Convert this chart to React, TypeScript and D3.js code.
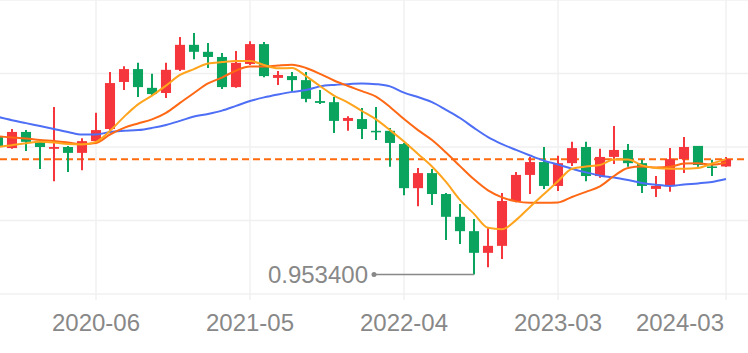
import React from 'react';
import * as d3 from 'd3';

// monthly candles, 2019-11 .. 2024-03
const months = [
  '2019-11', '2019-12', '2020-01', '2020-02', '2020-03', '2020-04', '2020-05', '2020-06',
  '2020-07', '2020-08', '2020-09', '2020-10', '2020-11', '2020-12', '2021-01', '2021-02',
  '2021-03', '2021-04', '2021-05', '2021-06', '2021-07', '2021-08', '2021-09', '2021-10',
  '2021-11', '2021-12', '2022-01', '2022-02', '2022-03', '2022-04', '2022-05', '2022-06',
  '2022-07', '2022-08', '2022-09', '2022-10', '2022-11', '2022-12', '2023-01', '2023-02',
  '2023-03', '2023-04', '2023-05', '2023-06', '2023-07', '2023-08', '2023-09', '2023-10',
  '2023-11', '2023-12', '2024-01', '2024-02', '2024-03',
];

const open = [
  1.327, 1.297, 1.341, 1.314, 1.295, 1.300, 1.284, 1.316, 1.349, 1.477, 1.512, 1.461, 1.447, 1.510,
  1.578, 1.559, 1.545, 1.463, 1.526, 1.580, 1.488, 1.493, 1.482, 1.425, 1.422, 1.371, 1.376, 1.344,
  1.344, 1.308, 1.188, 1.229, 1.172, 1.110, 1.071, 1.012, 1.031, 1.153, 1.224, 1.259, 1.194, 1.256,
  1.300, 1.221, 1.273, 1.292, 1.256, 1.186, 1.194, 1.267, 1.303, 1.247, 1.247,
];
const close = [
  1.300, 1.341, 1.314, 1.300, 1.300, 1.284, 1.316, 1.346, 1.474, 1.512, 1.463, 1.444, 1.510, 1.578,
  1.559, 1.545, 1.463, 1.529, 1.580, 1.493, 1.496, 1.482, 1.431, 1.420, 1.371, 1.379, 1.349, 1.341,
  1.311, 1.188, 1.229, 1.172, 1.110, 1.071, 1.012, 1.031, 1.153, 1.224, 1.259, 1.194, 1.256, 1.297,
  1.221, 1.273, 1.292, 1.256, 1.194, 1.194, 1.267, 1.300, 1.251, 1.243, 1.267,
];
const high = [
  1.333, 1.349, 1.346, 1.316, 1.409, 1.303, 1.324, 1.393, 1.504, 1.520, 1.529, 1.499, 1.529, 1.599,
  1.610, 1.583, 1.556, 1.561, 1.588, 1.586, 1.507, 1.504, 1.504, 1.455, 1.436, 1.384, 1.406, 1.409,
  1.352, 1.311, 1.243, 1.240, 1.175, 1.145, 1.104, 1.080, 1.175, 1.232, 1.273, 1.300, 1.276, 1.314,
  1.314, 1.295, 1.357, 1.308, 1.265, 1.221, 1.297, 1.327, 1.303, 1.265, 1.273,
];
const low = [
  1.295, 1.295, 1.289, 1.240, 1.207, 1.232, 1.237, 1.314, 1.346, 1.455, 1.436, 1.441, 1.433, 1.507,
  1.539, 1.515, 1.458, 1.461, 1.523, 1.490, 1.469, 1.450, 1.422, 1.417, 1.338, 1.344, 1.322, 1.319,
  1.246, 1.169, 1.139, 1.142, 1.047, 1.036, 0.9534, 0.973, 0.995, 1.150, 1.172, 1.186, 1.180, 1.248,
  1.207, 1.216, 1.254, 1.246, 1.175, 1.164, 1.178, 1.229, 1.246, 1.221, 1.246,
];

// moving averages as drawn
const ma5 = [
  1.300, 1.305, 1.310, 1.314, 1.312, 1.308, 1.307, 1.314, 1.344, 1.382, 1.416, 1.440, 1.467, 1.496,
  1.512, 1.527, 1.531, 1.534, 1.534, 1.523, 1.514, 1.515, 1.493, 1.466, 1.440, 1.421, 1.398, 1.375,
  1.346, 1.315, 1.281, 1.247, 1.205, 1.156, 1.118, 1.080, 1.076, 1.101, 1.137, 1.172, 1.207, 1.241,
  1.247, 1.251, 1.266, 1.266, 1.250, 1.243, 1.241, 1.241, 1.243, 1.255, 1.267,
];
const ma10 = [
  1.329, 1.326, 1.323, 1.319, 1.316, 1.312, 1.308, 1.311, 1.334, 1.352, 1.364, 1.375, 1.393, 1.420,
  1.447, 1.473, 1.489, 1.508, 1.519, 1.519, 1.522, 1.524, 1.515, 1.499, 1.481, 1.466, 1.452, 1.437,
  1.409, 1.376, 1.346, 1.319, 1.285, 1.248, 1.212, 1.182, 1.163, 1.152, 1.148, 1.148, 1.149, 1.164,
  1.178, 1.193, 1.221, 1.243, 1.247, 1.244, 1.246, 1.255, 1.256, 1.252, 1.258,
];
const ma20 = [
  1.382, 1.373, 1.365, 1.357, 1.349, 1.341, 1.334, 1.334, 1.341, 1.344, 1.346, 1.352, 1.360, 1.371,
  1.383, 1.390, 1.399, 1.412, 1.425, 1.435, 1.443, 1.450, 1.455, 1.465, 1.469, 1.471, 1.473, 1.471,
  1.465, 1.448, 1.436, 1.422, 1.401, 1.379, 1.352, 1.327, 1.308, 1.292, 1.277, 1.263, 1.252, 1.241,
  1.231, 1.222, 1.217, 1.210, 1.202, 1.197, 1.194, 1.198, 1.201, 1.205, 1.213,
];

const tickMonths = ['2020-06', '2021-05', '2022-04', '2023-03', '2024-03'];
const gridValues = [0.9, 1.1, 1.3, 1.5, 1.7];
const minLabel = '0.953400';

const W = 748, H = 353;
const UP = '#f5363c', DOWN = '#0aa45f';

export default function App() {
  const x = d3.scaleBand().domain(months).range([-9, -9 + months.length * 14]).paddingInner(0);
  const cx = (m: string) => (x(m) as number) + x.bandwidth() / 2;
  const y = d3.scaleLinear().domain([0.9, 1.7]).range([294, 0]);
  const bodyW = x.bandwidth() * 0.72;

  const line = (vals: number[]) =>
    d3.line<number>().x((_, i) => cx(months[i])).y(v => y(v)).curve(d3.curveMonotoneX)(vals) || '';

  const lastClose = close[close.length - 1];
  const minIdx = d3.minIndex(low);
  const minX = cx(months[minIdx]);
  const minY = y(low[minIdx]);

  return (
    <svg width={W} height={H} style={{ position: 'absolute', left: 0, top: 0 }}
      fontFamily="'Liberation Sans', Arial, sans-serif">
      {gridValues.map(v => (
        <line key={v} x1={0} x2={W} y1={y(v)} y2={y(v)} stroke="#f0f0f0" strokeWidth={1.5} />
      ))}
      {tickMonths.map(m => (
        <line key={m} x1={cx(m)} x2={cx(m)} y1={0} y2={300} stroke="#f0f0f0" strokeWidth={1.5} />
      ))}
      <line x1={0} x2={W} y1={y(lastClose)} y2={y(lastClose)} stroke="#ff6a0d" strokeWidth={2}
        strokeDasharray="7,4" />
      {months.map((m, i) => {
        const up = close[i] >= open[i];
        const col = up ? UP : DOWN;
        const top = y(Math.max(open[i], close[i]));
        const bot = y(Math.min(open[i], close[i]));
        return (
          <g key={m}>
            <line x1={cx(m)} x2={cx(m)} y1={y(high[i])} y2={y(low[i])} stroke={col} strokeWidth={2} />
            <rect x={cx(m) - bodyW / 2} y={top} width={bodyW} height={Math.max(bot - top, 1.5)} fill={col} />
          </g>
        );
      })}
      <path d={line(ma20)} fill="none" stroke="#4d6ef5" strokeWidth={2} />
      <path d={line(ma10)} fill="none" stroke="#ff6814" strokeWidth={2} />
      <path d={line(ma5)} fill="none" stroke="#ffa41c" strokeWidth={2} />
      <line x1={minX} x2={minX - 100} y1={minY} y2={minY} stroke="#888" strokeWidth={1.5} />
      <circle cx={minX - 100} cy={minY} r={2.5} fill="#888" />
      <text x={minX - 106} y={minY} textAnchor="end" dominantBaseline="central" fontSize={24} fill="#888">
        {minLabel}
      </text>
      {tickMonths.map((m, i) => {
        const last = i === tickMonths.length - 1;
        return (
          <text key={m} x={last ? cx(m) - 2 : cx(m)} y={331} textAnchor={last ? 'end' : 'middle'}
            fontSize={24} fill="#888">{m}</text>
        );
      })}
    </svg>
  );
}
